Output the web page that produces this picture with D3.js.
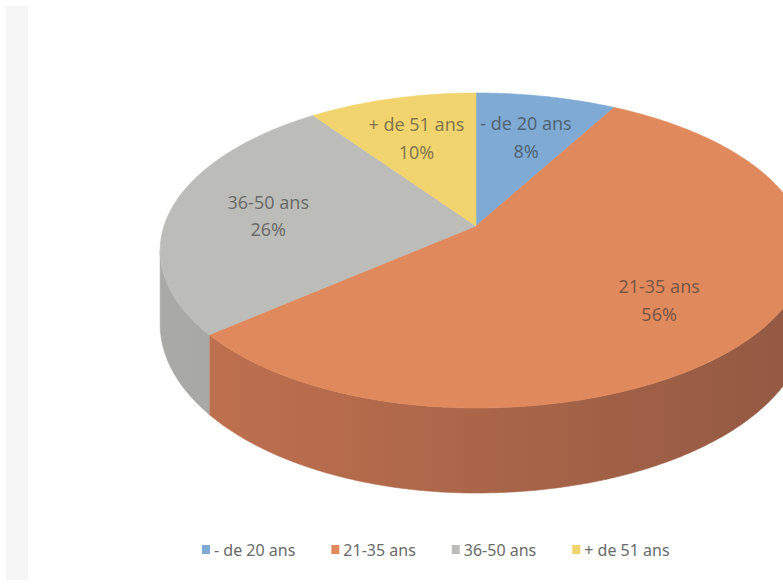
<!DOCTYPE html>
<html><head><meta charset="utf-8">
<script src="https://cdn.jsdelivr.net/npm/d3@7"></script>
<style>body{margin:0;background:#fff}svg{display:block}</style>
</head><body>
<script>
// ---- data ----
const categories = ["- de 20 ans", "21-35 ans", "36-50 ans", "+ de 51 ans"];
const values = [8, 56, 26, 10];
const percentLabels = ["8%", "56%", "26%", "10%"];
const topColors = ["#7EAAD4", "#E0895C", "#BCBCB8", "#F2D46F"];
const sideColorsLight = ["#6F97BD", "#C2724F", "#A9A9A6", "#D9BB5C"];
const sideColorsDark = ["#5E84A8", "#935943", "#9C9C99", "#C4A74E"];

// ---- layout ----
const W = 783, H = 586;
const svg = d3.select("body").append("svg").attr("width", W).attr("height", H);
svg.append("rect").attr("width", W).attr("height", H).attr("fill", "#fff");
svg.append("rect").attr("x", 6).attr("y", 6).attr("width", 22).attr("height", 574).attr("fill", "#f6f6f6");

// perspective projection of the unit disc onto the page
const cx = 476, cy = 226, ry = 153.7, rxL = 312, rxR = 326, persp = 0.1555, thick = 71.8;
function proj(u, v, down) {
  const w = 1 / (1 - persp * v);
  const rx = u < 0 ? rxL : rxR;
  return [cx + rx * u * w, cy + ry * v * w + (down ? thick * w : 0)];
}
const pt = (a, r, down) => proj(r * Math.sin(a), -r * Math.cos(a), down);

const pie = d3.pie().sort(null).value(d => d)(values);
const line = d3.line();
const defs = svg.append("defs");
const step = Math.PI / 360;
function arcPts(a0, a1, r, down) {
  const n = Math.max(2, Math.ceil((a1 - a0) / step));
  return d3.range(n + 1).map(i => pt(a0 + (a1 - a0) * i / n, r, down));
}

// visible outer wall lies between the two silhouette angles
const sil0 = Math.PI / 2 + Math.asin(persp), sil1 = 3 * Math.PI / 2 - Math.asin(persp);
const walls = svg.append("g");
pie.forEach((s, i) => {
  const a0 = Math.max(s.startAngle, sil0), a1 = Math.min(s.endAngle, sil1);
  if (a1 <= a0) return;
  const g = defs.append("linearGradient").attr("id", "side" + i)
    .attr("gradientUnits", "userSpaceOnUse")
    .attr("x1", 160).attr("x2", 800).attr("y1", 0).attr("y2", 0);
  g.append("stop").attr("offset", 0).attr("stop-color", sideColorsLight[i]);
  g.append("stop").attr("offset", 1).attr("stop-color", sideColorsDark[i]);
  const pts = arcPts(a0, a1, 1, false).concat(arcPts(a0, a1, 1, true).reverse());
  walls.append("path").attr("d", line(pts) + "Z").attr("fill", `url(#side${i})`)
    .attr("stroke", `url(#side${i})`).attr("stroke-width", 0.6);
});

const tops = svg.append("g");
pie.forEach((s, i) => {
  const pts = [pt(0, 0, false)].concat(arcPts(s.startAngle, s.endAngle, 1, false));
  tops.append("path").attr("d", line(pts) + "Z").attr("fill", topColors[i])
    .attr("stroke", topColors[i]).attr("stroke-width", 0.6);
});

// data labels
const labels = svg.append("g").attr("font-family", "'Noto Sans', 'Open Sans', sans-serif")
  .attr("font-size", 18).attr("fill", "#333").attr("fill-opacity", 0.6).attr("text-anchor", "middle");
pie.forEach((s, i) => {
  const [x, y] = pt((s.startAngle + s.endAngle) / 2, 0.68, false);
  const t = labels.append("text").attr("x", x).attr("y", y);
  t.append("tspan").attr("x", x).attr("dy", "-0.25em").text(categories[i]);
  t.append("tspan").attr("x", x).attr("dy", "1.55em").text(percentLabels[i]);
});

// legend
const legend = svg.append("g").attr("font-family", "'Noto Sans', 'Open Sans', sans-serif")
  .attr("font-size", 16).attr("fill", "#6a6a6a");
let lx = 202;
categories.forEach((c, i) => {
  legend.append("rect").attr("x", lx).attr("y", 545).attr("width", 8).attr("height", 9).attr("fill", topColors[i]);
  const t = legend.append("text").attr("x", lx + 12).attr("y", 556).text(c);
  lx += 12 + t.node().getComputedTextLength() + 36;
});
</script>
</body></html>
